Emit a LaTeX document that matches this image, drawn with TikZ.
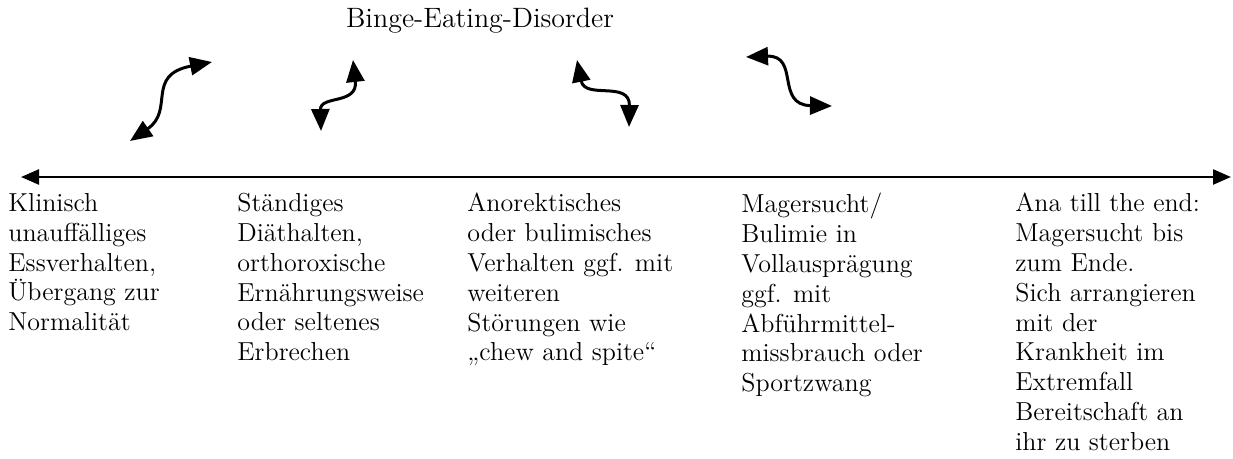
\documentclass[tikz,border=0pt]{standalone}
\usepackage{fontspec}
\usepackage{tikz}
\usetikzlibrary{arrows.meta, positioning}

\begin{document}
\begin{tikzpicture}[
    x=0.5pt, y=-0.5pt,
    stagetext/.style={
        anchor=north west, inner sep=0pt,
        align=left, font=\fontsize{13}{14.9}\selectfont
    },
    axisline/.style={{Triangle[length=9pt, width=7.5pt]}-{Triangle[length=9pt, width=7.5pt]}, line width=1.2pt},
    swing/.style={{Triangle[length=11pt, width=9pt]}-{Triangle[length=11pt, width=9pt]}, line width=1.5pt},
]
\useasboundingbox (0,0) rectangle (1233,459);

% Title
\node[font=\fontsize{14}{16}\selectfont, inner sep=0pt, anchor=base] (title) at (480,28) {Binge-Eating-Disorder};

% Axis
\coordinate (axisL) at (21,177);
\coordinate (axisR) at (1231,177);
\draw[axisline] (axisL) -- (axisR);

% Stages below the axis
\node[stagetext] (s1) at (8,193) {%
    Klinisch\\
    unauffälliges\\
    Essverhalten,\\
    Übergang zur\\
    Normalität
};
\node[stagetext] (s2) at (237,193) {%
    Ständiges\\
    Diäthalten,\\
    orthoroxische\\
    Ernährungsweise\\
    oder seltenes\\
    Erbrechen
};
\node[stagetext] (s3) at (467,193) {%
    Anorektisches\\
    oder bulimisches\\
    Verhalten ggf. mit\\
    weiteren\\
    Störungen wie\\
    „chew and spite“
};
\node[stagetext] (s4) at (741,193) {%
    Magersucht/\\
    Bulimie in\\
    Vollausprägung\\
    ggf. mit\\
    Abführmittel-\\
    missbrauch oder\\
    Sportzwang
};
\node[stagetext] (s5) at (1015,193) {%
    Ana till the end:\\
    Magersucht bis\\
    zum Ende.\\
    Sich arrangieren\\
    mit der\\
    Krankheit im\\
    Extremfall\\
    Bereitschaft an\\
    ihr zu sterben
};

% Wavy arrows
\coordinate (w1a) at (130,141);
\coordinate (w1b) at (212,62);
\coordinate (w2a) at (321,131);
\coordinate (w2b) at (353,60);
\coordinate (w3a) at (577,60);
\coordinate (w3b) at (629,127);
\coordinate (w4a) at (746,57);
\coordinate (w4b) at (832,106);

\draw[swing] (w1a) .. controls (175,110) and (145,75) .. (w1b);
\draw[swing] (w2a) .. controls (320,95) and (358,105) .. (w2b);
\draw[swing] (w3a) .. controls (585,100) and (630,80) .. (w3b);
\draw[swing] (w4a) .. controls (800,55) and (775,105) .. (w4b);

\end{tikzpicture}
\end{document}
